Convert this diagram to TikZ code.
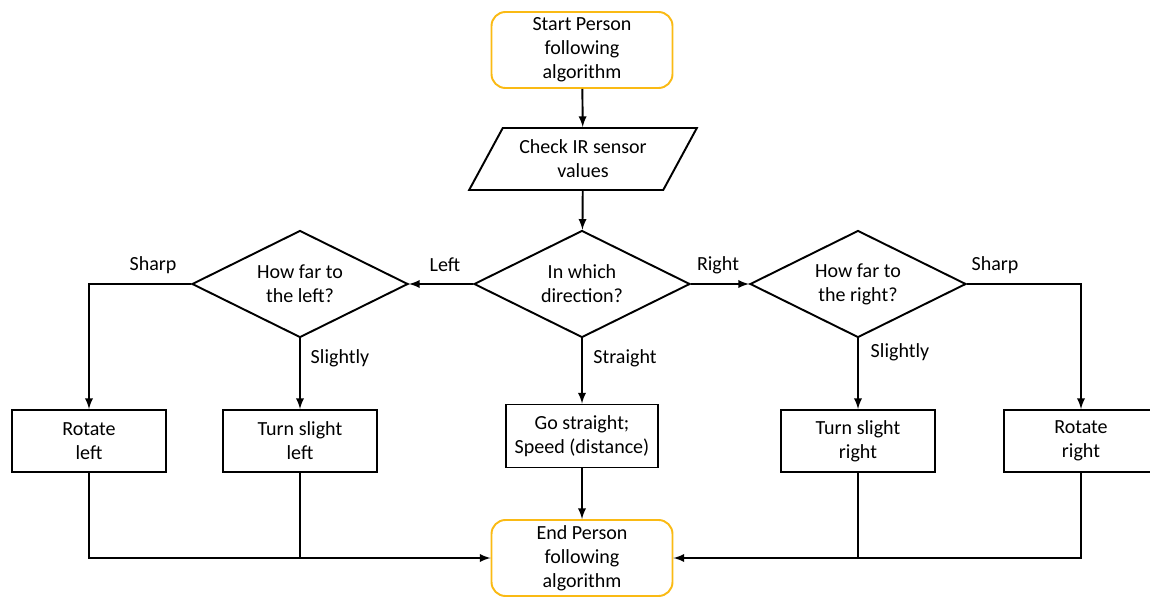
\documentclass[tikz,border=0pt]{standalone}
\usepackage{fontspec}
\setmainfont{Carlito}
\usetikzlibrary{shapes.geometric,arrows}
\definecolor{termgold}{RGB}{250,186,20}
\tikzset{
	base/.style={draw=black, line width=1.1pt, align=center, inner sep=0pt, font=\fontsize{11.4}{13.7}\selectfont},
	term/.style={base, draw=termgold, rounded corners=0.28cm, minimum width=3.62cm, minimum height=1.52cm},
	io/.style={base, trapezium, trapezium left angle=55, trapezium right angle=125, trapezium stretches=true, minimum width=4.56cm, minimum height=1.24cm},
	decision/.style={base, diamond, shape aspect=2, minimum width=4.32cm, minimum height=2.14cm},
	process/.style={base, rectangle, minimum width=3.08cm, minimum height=1.24cm},
	lbl/.style={font=\fontsize{11.4}{13.7}\selectfont, inner sep=0pt},
	flow/.style={draw=black, line width=1.1pt, -latex},
	joinline/.style={draw=black, line width=1.1pt}
}
\begin{document}
\begin{tikzpicture}
		\useasboundingbox (0.00,0.00) rectangle (23.00,11.94);
		% nodes
		\node[term] (start) at (11.64,10.94) {Start Person\\following\\algorithm};
		\node[io] (sensor) at (11.66,8.76) {Check IR sensor\\values};
		\node[decision] (dir) at (11.64,6.26) {In which\\direction?};
		\node[decision] (leftq) at (6.00,6.26) {How far to\\the left?};
		\node[decision] (rightq) at (17.16,6.26) {How far to\\the right?};
		\node[process] (rotl) at (1.78,3.12) {Rotate\\left};
		\node[process] (turnl) at (6.00,3.12) {Turn slight\\left};
		\node[process, minimum width=3.04cm, minimum height=1.26cm] (straight) at (11.64,3.22) {Go straight;\\Speed (distance)};
		\node[process] (turnr) at (17.16,3.12) {Turn slight\\right};
		\node[process] (rotr) at (21.62,3.12) {Rotate\\right};
		\node[term] (end) at (11.64,0.78) {End Person\\following\\algorithm};
		% labels
		\node[lbl] (lleft) at (8.90,6.64) {Left};
		\node[lbl] (lright) at (14.36,6.64) {Right};
		\node[lbl] (lsharpl) at (3.06,6.64) {Sharp};
		\node[lbl] (lsharpr) at (19.90,6.64) {Sharp};
		\node[lbl] (lslightl) at (6.80,4.78) {Slightly};
		\node[lbl] (lstraight) at (12.50,4.78) {Straight};
		\node[lbl] (lslightr) at (18.00,4.90) {Slightly};
		% connectors
		\draw[flow] (start) -- (sensor);
		\draw[flow] (sensor) -- (dir);
		\draw[flow] (dir.west) -- (leftq.east);
		\draw[flow] (dir.east) -- (rightq.west);
		\draw[flow] (dir.south) -- (straight.north);
		\draw[flow] (leftq.west) -| (rotl.north);
		\draw[flow] (leftq.south) -- (turnl.north);
		\draw[flow] (rightq.east) -| (rotr.north);
		\draw[flow] (rightq.south) -- (turnr.north);
		\draw[flow] (straight.south) -- (end.north);
		\draw[flow] (rotl.south) |- (end.west);
		\draw[joinline] (turnl.south) -- (turnl.south |- end.west);
		\draw[flow] (rotr.south) |- (end.east);
		\draw[joinline] (turnr.south) -- (turnr.south |- end.east);
	\end{tikzpicture}
\end{document}
